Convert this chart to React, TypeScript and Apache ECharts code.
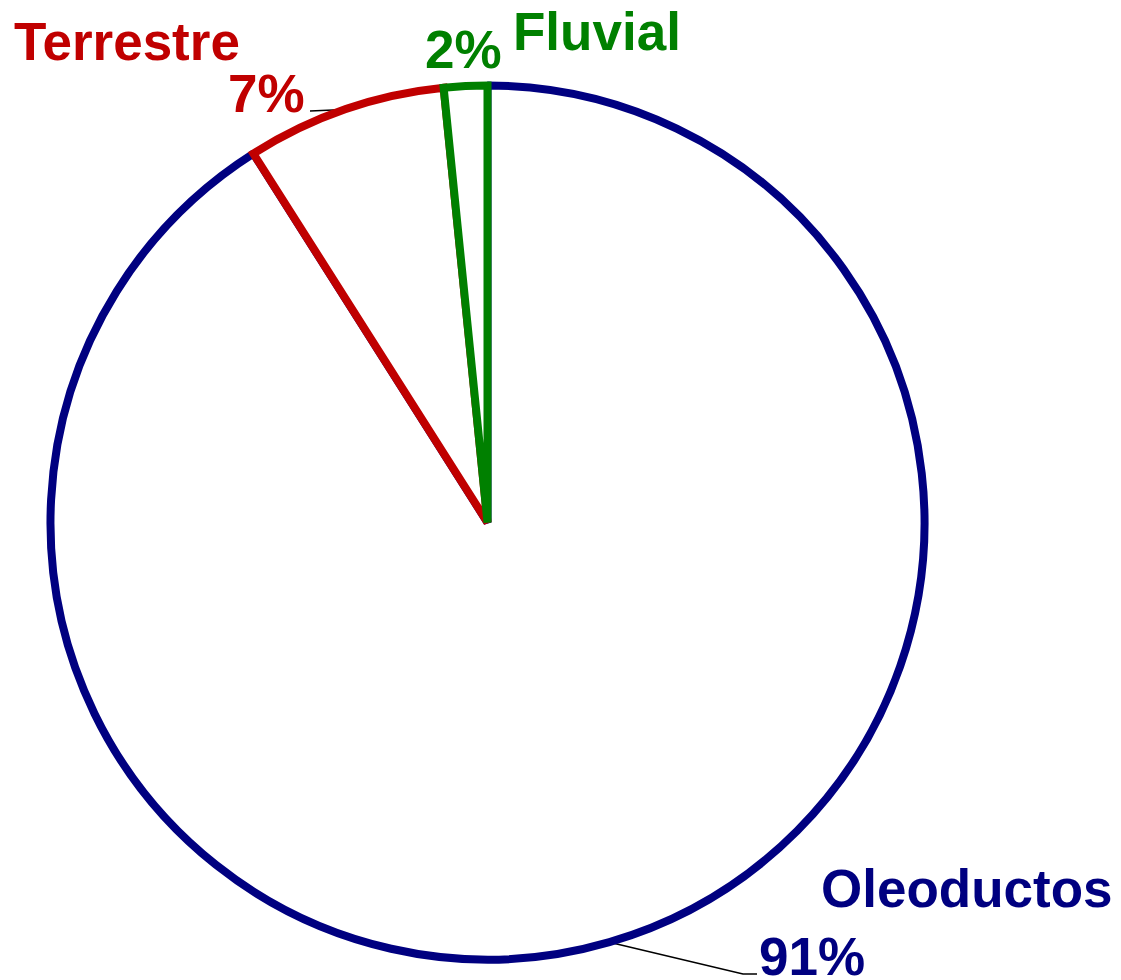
import React, { useEffect, useRef } from 'react';
import * as echarts from 'echarts';

// ---- data ----
const categories = ['Oleoductos', 'Terrestre', 'Fluvial'];
const shares = [91.0, 7.4, 1.6];
const sliceColors = ['#000080', '#C00000', '#008000'];

// ---- layout (label anchors: left x, text baseline) ----
const FONT_SIZE = 53;
const CENTRAL_OFFSET = FONT_SIZE * 0.3465;
const nameAnchors = [
  [821, 907],
  [14, 60],
  [513, 50],
];
const pctAnchors = [
  [759, 975],
  [228, 112],
  [425, 68],
];
const leaderTails: number[][][] = [
  [
    [743, 974],
    [757, 974],
  ],
  [[310, 111]],
  [],
];
const sliceJoins = ['bevel', 'miter', 'miter'];

export default function App() {
  const ref = useRef<HTMLDivElement>(null);

  useEffect(() => {
    if (!ref.current) return;
    const chart = echarts.init(ref.current, null, { renderer: 'svg' });
    const font = {
      fontFamily: '"Liberation Sans", Arial, Helvetica, sans-serif',
      fontWeight: 'bold' as const,
      fontSize: FONT_SIZE,
    };
    const base = {
      type: 'pie' as const,
      center: [487.5, 522.5],
      radius: [0, 437],
      startAngle: 90,
      clockwise: true,
      silent: true,
      avoidLabelOverlap: false,
      emphasis: { disabled: true },
    };

    const makeLayout = (anchors: number[][], withLines: boolean) => (p: any) => {
      const i = p.dataIndex;
      const [x, b] = anchors[i];
      const r: any = { x, y: b - CENTRAL_OFFSET, align: 'left', verticalAlign: 'middle' };
      if (withLines && leaderTails[i].length && p.labelLinePoints) {
        const pts = [p.labelLinePoints[0], ...leaderTails[i]];
        if (pts.length < 3) pts.push(pts[pts.length - 1]);
        r.labelLinePoints = pts;
      }
      return r;
    };

    chart.setOption({
      animation: false,
      backgroundColor: '#ffffff',
      series: [
        {
          ...base,
          data: categories.map((name, i) => ({
            name,
            value: shares[i],
            itemStyle: {
              color: '#ffffff',
              borderColor: sliceColors[i],
              borderWidth: 8,
              borderJoin: sliceJoins[i],
            },
            label: { color: sliceColors[i] },
            labelLine: { show: leaderTails[i].length > 0 },
          })),
          label: {
            show: true,
            position: 'outside',
            overflow: 'none',
            formatter: (p: any) => Math.round(p.percent) + '%',
            ...font,
          },
          labelLine: {
            show: true,
            length: 10,
            length2: 10,
            lineStyle: { color: '#000000', width: 1.5 },
          },
          labelLayout: makeLayout(pctAnchors, true),
        },
        {
          ...base,
          data: categories.map((name, i) => ({
            name,
            value: shares[i],
            itemStyle: { color: 'rgba(0,0,0,0)', borderWidth: 0 },
            label: { color: sliceColors[i] },
          })),
          label: {
            show: true,
            position: 'outside',
            overflow: 'none',
            formatter: '{b}',
            ...font,
          },
          labelLine: { show: false },
          labelLayout: makeLayout(nameAnchors, false),
        },
      ],
    });

    return () => chart.dispose();
  }, []);

  return (
    <div
      ref={ref}
      style={{ position: 'absolute', left: 0, top: 0, width: 1121, height: 980 }}
    />
  );
}
